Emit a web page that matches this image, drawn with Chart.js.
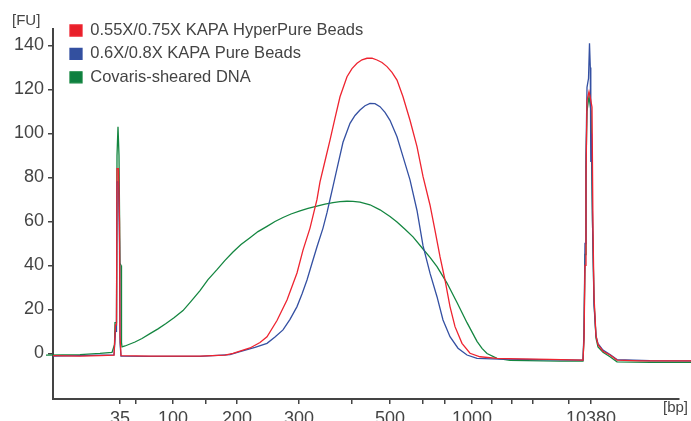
<!DOCTYPE html>
<html><head><meta charset="utf-8">
<script src="https://cdn.jsdelivr.net/npm/chart.js@4.4.1/dist/chart.umd.min.js"></script>
<style>html,body{margin:0;padding:0;background:#fff}</style>
</head><body>
<canvas id="c" width="691" height="421"></canvas>
<script>
// ---- data (x = migration time units, y = fluorescence units) ----
const seriesNames = ['0.55X/0.75X KAPA HyperPure Beads', '0.6X/0.8X KAPA Pure Beads', 'Covaris-sheared DNA'];

const redTime = [0, 2.7, 4.7, 6.1, 6.25, 6.35, 6.4, 6.55, 6.65, 6.7, 6.8, 9.7, 14.7, 17.2, 18.0, 19.7, 20.7, 21.4, 22.4, 23.4, 24.4, 25.0, 25.7, 26.4, 26.7, 27.2, 27.7, 28.2, 28.7, 29.4, 29.9, 30.4, 30.9, 31.4, 31.9, 32.4, 32.9, 33.4, 33.9, 34.4, 35.0, 35.7, 36.4, 37.0, 37.7, 38.2, 38.7, 39.2, 39.7, 40.2, 40.9, 41.7, 42.7, 44.4, 46.7, 49.7, 53.0, 53.1, 53.2, 53.3, 53.4, 53.6, 53.7, 53.9, 54.0, 54.1, 54.3, 54.5, 55.0, 55.7, 56.4, 58.7, 63.8];
const redFU   = [-1.0, -1.2, -1.0, -0.8, 13, 13, 84, 84, 60, 8, -1.0, -1.2, -1.2, -0.8, 0, 2.5, 5, 7.6, 15, 24.3, 36.6, 47, 57, 70, 78, 87.5, 97, 107, 116.7, 125.8, 129.5, 131.9, 133.5, 134.2, 134.3, 133.4, 132.3, 130.4, 127.8, 124.3, 116.7, 106, 94, 80.5, 67.5, 56, 44, 33.4, 21.3, 12.2, 4.6, 0.1, -1.5, -2.2, -2.5, -2.7, -3.0, 6, 40, 80, 115, 119, 117, 112, 56, 26, 8, 4, 1, -0.7, -3.0, -3.4, -3.4];

const blueTime = [0, 2.7, 6.1, 6.25, 6.35, 6.4, 6.55, 6.65, 6.7, 6.8, 9.7, 14.7, 17.7, 18.7, 20.2, 21.4, 22.2, 23.0, 23.7, 24.4, 24.9, 25.4, 25.9, 26.4, 27.0, 27.4, 27.7, 28.0, 28.4, 29.0, 29.7, 30.2, 30.7, 31.2, 31.7, 32.2, 32.7, 33.2, 33.7, 34.4, 35.0, 35.7, 36.4, 37.0, 37.7, 38.4, 39.0, 39.7, 40.5, 41.4, 42.4, 44.7, 48.7, 53.0, 53.1, 53.2, 53.3, 53.4, 53.55, 53.65, 53.73, 53.78, 53.85, 53.95, 54.1, 54.3, 54.5, 55.0, 55.7, 56.4, 59.7, 63.8];
const blueFU   = [-1.2, -1.0, -0.6, 10, 10, 78, 78, 50, 5, -1.2, -1.3, -1.3, -0.5, 0.8, 2.8, 4.6, 7.5, 10.7, 15.5, 21.3, 27, 33.4, 41, 48.5, 57, 64, 70, 76, 84, 96, 104.6, 108.2, 110.7, 112.6, 113.7, 113.6, 112.2, 109.6, 106, 98.5, 89.5, 78.9, 65, 49, 36.5, 25.8, 15.2, 7.6, 2.4, -0.7, -2.2, -2.6, -2.8, -3.0, 10, 50, 90, 121, 125, 141, 130, 87, 100, 60, 22, 8, 4.5, 1.5, -0.5, -2.8, -3.3, -3.4];

const greenTime = [-0.7, 2.7, 4.7, 5.9, 6.15, 6.2, 6.35, 6.4, 6.5, 6.6, 6.7, 6.8, 6.85, 6.9, 7.2, 8.2, 8.9, 9.7, 10.5, 11.3, 12.1, 13.0, 13.8, 14.7, 15.5, 16.4, 17.2, 18.0, 18.8, 19.7, 20.5, 21.4, 22.2, 23.0, 23.8, 24.7, 25.5, 26.4, 27.2, 28.0, 28.7, 29.4, 30.0, 30.7, 31.7, 32.7, 33.7, 34.4, 35.2, 36.0, 37.0, 37.7, 38.4, 39.4, 40.4, 41.4, 42.4, 42.9, 43.4, 44.4, 45.7, 50.7, 53.0, 53.1, 53.2, 53.3, 53.4, 53.6, 53.8, 53.95, 54.1, 54.3, 54.5, 55.0, 55.7, 56.4, 59.7, 63.8];
const greenFU   = [-0.8, -0.5, 0, 0.5, 4, 14, 14, 90, 103, 90, 41, 40, 5, 3, 3.4, 5.2, 6.8, 9.0, 11.2, 13.6, 16.2, 19.5, 23.7, 28.6, 33.6, 38.1, 42.3, 46.1, 49.5, 52.6, 55.4, 57.8, 60.0, 61.8, 63.4, 64.8, 66.0, 67.0, 67.9, 68.6, 69.0, 69.2, 69.1, 68.8, 67.6, 65.3, 62.3, 59.8, 56.5, 53, 47.5, 43.7, 39.5, 32, 23.2, 14, 5.5, 2.3, 0, -2.2, -3.1, -3.5, -3.5, 8, 45, 85, 110, 117, 110, 60, 24, 7, 3, 0.5, -1.5, -3.8, -4.0, -4.0];

// x-axis ticks (migration time) with their size-standard labels in bp
const tickTimes  = [6.7, 8.3, 12.0, 15.3, 18.4, 24.6, 29.9, 33.7, 37.0, 39.2, 41.9, 43.9, 45.9, 48.0, 51.6, 53.8];
const tickLabels = ['35', '', '100', '', '200', '300', '', '500', '', '', '1000', '', '', '', '', '10380'];
const fuTicks = [0, 20, 40, 60, 80, 100, 120, 140];

const lineColors = ['#ee2430', '#3450a2', '#148640'];
const boxColors  = ['#e8202a', '#33509f', '#0e7f3f'];

const toPts = (xs, ys) => xs.map((x, i) => ({x: x, y: ys[i]}));
const seriesData = [toPts(redTime, redFU), toPts(blueTime, blueFU), toPts(greenTime, greenFU)];

const AXIS = '#444444';
const FONT = "'Liberation Sans', Arial, sans-serif";

const decor = {
  id: 'decor',
  afterLayout(chart) {
    const lg = chart.legend;
    if (lg) {
      lg.left = 63.1; lg.top = 15.35; lg.bottom = lg.top + 300; lg.right = lg.left + lg.width;
    }
  },
  afterDraw(chart) {
    const ctx = chart.ctx;
    ctx.save();
    ctx.fillStyle = AXIS;
    ctx.font = "15px " + FONT;
    ctx.textBaseline = 'middle';
    ctx.textAlign = 'left';
    ctx.fillText('[FU]', 12, 21);
    ctx.fillText('[bp]', 663, 408);
    ctx.restore();
  }
};

new Chart(document.getElementById('c'), {
  type: 'line',
  data: {
    datasets: seriesData.map((d, i) => ({
      label: seriesNames[i],
      data: d,
      borderColor: lineColors[i],
      backgroundColor: boxColors[i],
      borderWidth: 1.3,
      pointRadius: 0,
      tension: 0,
      clip: false
    }))
  },
  options: {
    responsive: false,
    animation: false,
    devicePixelRatio: 1,
    layout: {padding: {top: 29, right: 12, left: 0, bottom: 0}},
    plugins: {
      tooltip: {enabled: false},
      legend: {
        position: 'chartArea',
        align: 'start',
        labels: {
          boxWidth: 12, boxHeight: 11, padding: 6.9,
          color: AXIS,
          font: {family: FONT, size: 16.5}
        }
      }
    },
    scales: {
      x: {
        type: 'linear', min: 0, max: 62.6,
        afterBuildTicks: s => { s.ticks = tickTimes.map(v => ({value: v})); },
        afterFit: s => { s.height = 22; },
        ticks: {
          autoSkip: false, maxRotation: 0, padding: 4, color: AXIS,
          font: {family: FONT, size: 18},
          callback: (v, i) => tickLabels[i]
        },
        grid: {drawOnChartArea: false, drawTicks: true, tickLength: 5, color: AXIS, lineWidth: 1.5},
        border: {display: true, color: AXIS, width: 2}
      },
      y: {
        type: 'linear', min: -20.7, max: 147.5,
        afterBuildTicks: s => { s.ticks = fuTicks.map(v => ({value: v})); },
        afterFit: s => { s.width = 53; },
        ticks: {
          padding: 4, color: AXIS,
          font: {family: FONT, size: 18},
          callback: v => String(v)
        },
        grid: {drawOnChartArea: false, drawTicks: true, tickLength: 5, color: AXIS, lineWidth: 1.5},
        border: {display: true, color: AXIS, width: 2}
      }
    }
  },
  plugins: [decor]
});
</script>
</body></html>
